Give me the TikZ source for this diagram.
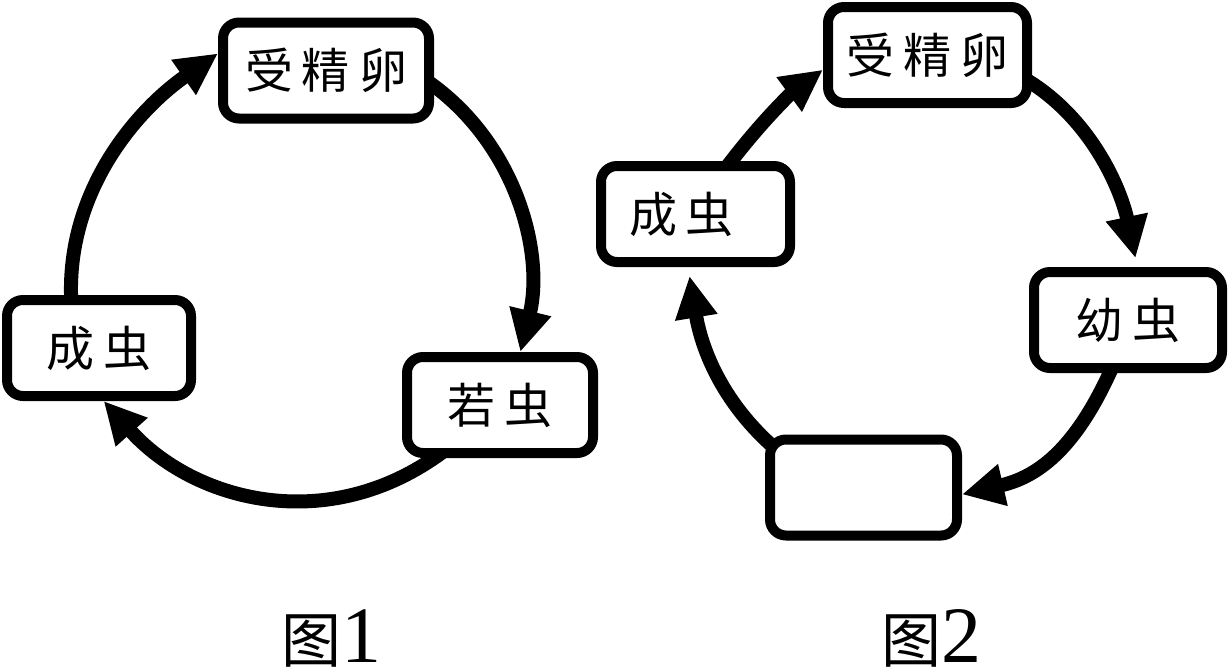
\documentclass[tikz,border=0pt]{standalone}
\usepackage{fontspec}
\newfontfamily\cjk{Noto Sans CJK SC}
\newfontfamily\lserif{Liberation Serif}
\usetikzlibrary{arrows.meta,backgrounds}
\begin{document}
\begin{tikzpicture}[x=0.5pt,y=-0.5pt,
  stage/.style={draw=black, line width=5pt, fill=white, rounded corners=8pt,
    minimum height=48pt, inner sep=0pt, font=\fontsize{24pt}{28pt}\cjk},
  flow/.style={line width=7pt, -{Triangle[length=21pt,width=20pt]}, shorten <=-5pt},
  gapend/.style={shorten >=4.5pt},
  figlabel/.style={inner sep=0pt, anchor=base}]
\useasboundingbox (0,0) rectangle (1228,670);

% Figure 1
\node[stage, minimum width=103pt] (egg1) at (326,70.5) {受\kern4.5pt精\kern4.5pt卵};
\node[stage, minimum width=92pt] (adult1) at (99,348) {成\kern4.5pt虫};
\node[stage, minimum width=93pt] (nymph1) at (500,405) {若\kern4.5pt虫};

% Figure 2
\node[stage, minimum width=99.5pt] (egg2) at (927.5,55) {受\kern4.5pt精\kern4.5pt卵};
\node[stage, minimum width=94.5pt] (adult2) at (695.5,214) {成\kern4.5pt虫\hspace*{14pt}};
\node[stage, minimum width=94pt] (larva2) at (1128,320) {幼\kern4.5pt虫};
\node[stage, minimum width=93.5pt] (blank2) at (863.5,487.5) {};

% captions
\node[figlabel] (cap1) at (331,662) {\fontsize{30pt}{34pt}\cjk 图\fontsize{40pt}{44pt}\lserif 1};
\node[figlabel] (cap2) at (931,662) {\fontsize{30pt}{34pt}\cjk 图\fontsize{40pt}{44pt}\lserif 2};

\begin{scope}[on background layer]
\fill[white] (0,0) rectangle (1228,670);
\draw[flow] (egg1.-8) .. controls +(83,57) and +(24,-98) .. (nymph1.69);
\draw[flow] (nymph1.-141) .. controls +(-107,79) and +(90,100) .. (adult1.-85);
\draw[flow] (adult1.118) .. controls +(-6.5,-101) and +(-83,58) .. (egg1.171);
\draw[flow] (adult2.56) .. controls +(30,-40) and +(-30,22) .. (egg2.-172);
\draw[flow,gapend] (egg2.-15) .. controls +(60,35) and +(-16,-76) .. (larva2.80);
\draw[flow] (larva2.-109) .. controls +(-32,73) and +(78,-18) .. (blank2.-4);
\draw[flow,gapend] (blank2.154) .. controls +(-49,-44) and +(12,73) .. (adult2.-98);
\end{scope}
\end{tikzpicture}
\end{document}
